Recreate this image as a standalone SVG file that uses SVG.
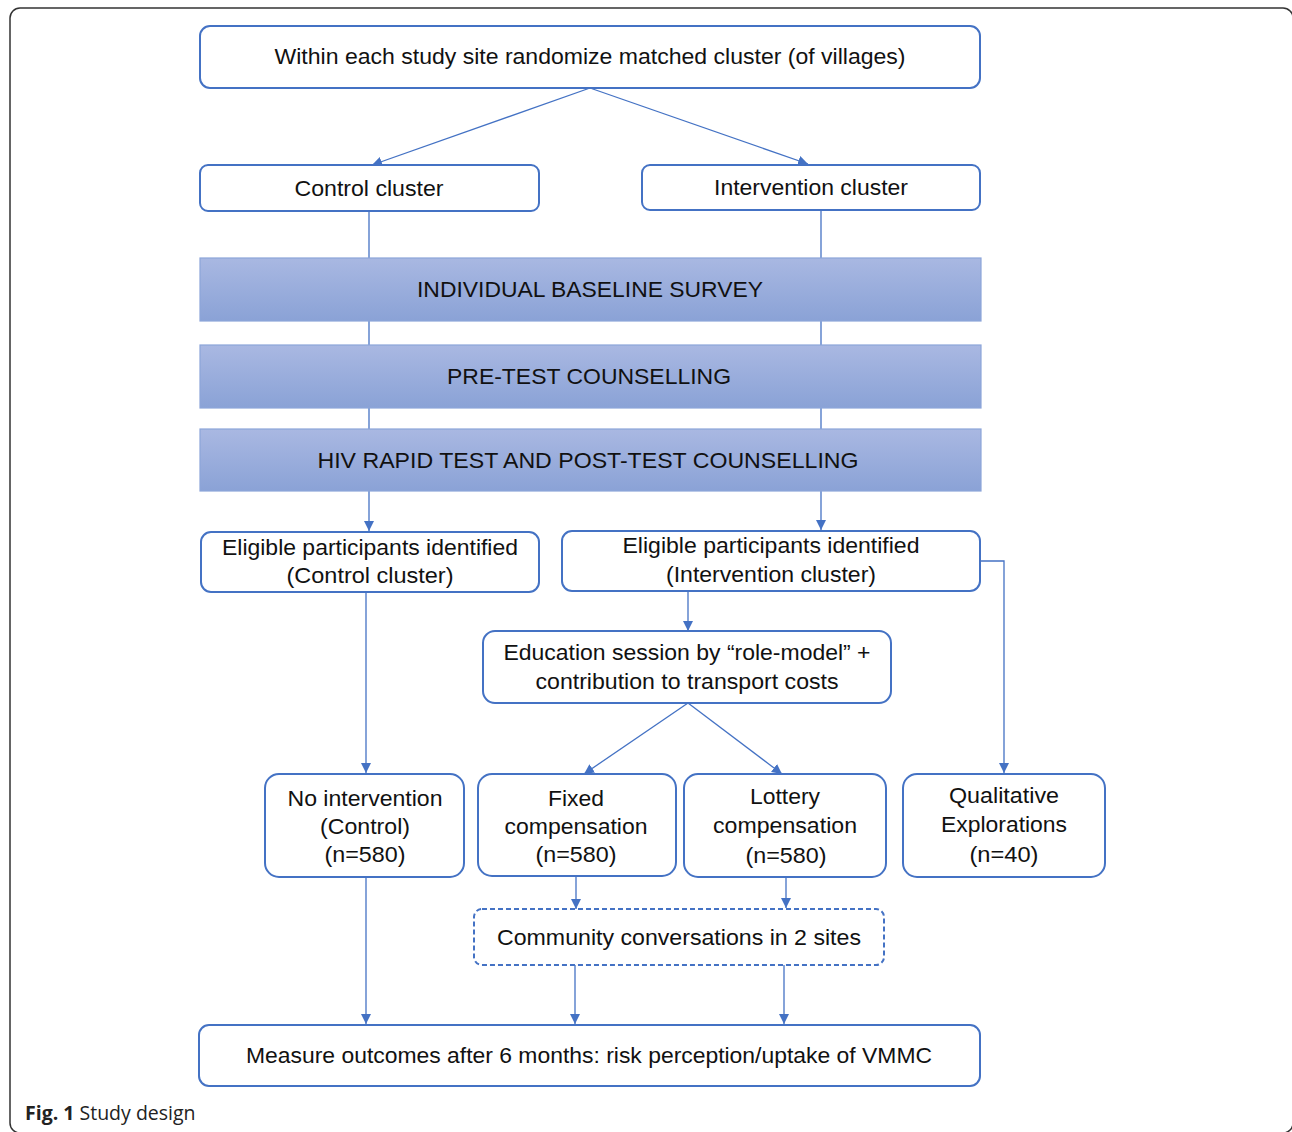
<svg xmlns="http://www.w3.org/2000/svg" width="1292" height="1132" viewBox="0 0 1292 1132">
<style>
.box{fill:#fff;stroke:#4472C4;stroke-width:2}
.dash{fill:#fff;stroke:#4472C4;stroke-width:2;stroke-dasharray:5 3}
.band{fill:url(#bg);stroke:#8CA5D9;stroke-width:1.2}
.t{font-family:"Liberation Sans",Arial,sans-serif;font-size:22px;fill:#111;text-anchor:middle}
.c{fill:none;stroke:#4472C4;stroke-width:1.3}
.cap{font-family:"Open Sans","Noto Sans",sans-serif;font-size:19.5px;fill:#222}
</style>
<defs>
<linearGradient id="bg" x1="0" y1="0" x2="0" y2="1">
<stop offset="0" stop-color="#A9B8E2"/>
<stop offset="1" stop-color="#8AA2D6"/>
</linearGradient>
<marker id="ah" markerUnits="userSpaceOnUse" markerWidth="12" markerHeight="12" refX="10" refY="5" orient="auto">
<path d="M0,0 L10,5 L0,10 z" fill="#4472C4"/>
</marker>
</defs>
<rect x="0" y="0" width="1292" height="1132" fill="#fff"/>
<rect x="10" y="8" width="1283" height="1125" rx="10" fill="none" stroke="#333" stroke-width="1.5"/>

<g id="connectors">
<line class="c" x1="590" y1="88" x2="372" y2="165" marker-end="url(#ah)"/>
<line class="c" x1="590" y1="88" x2="808" y2="164" marker-end="url(#ah)"/>
<line class="c" x1="369" y1="211" x2="369" y2="258"/>
<line class="c" x1="821" y1="210" x2="821" y2="258"/>
<line class="c" x1="369" y1="321" x2="369" y2="345"/>
<line class="c" x1="821" y1="321" x2="821" y2="345"/>
<line class="c" x1="369" y1="408" x2="369" y2="429"/>
<line class="c" x1="821" y1="408" x2="821" y2="429"/>
<line class="c" x1="369" y1="491" x2="369" y2="531" marker-end="url(#ah)"/>
<line class="c" x1="821" y1="491" x2="821" y2="530" marker-end="url(#ah)"/>
<polyline class="c" points="980,561 1004,561 1004,773" marker-end="url(#ah)"/>
<line class="c" x1="688" y1="592" x2="688" y2="631" marker-end="url(#ah)"/>
<line class="c" x1="688" y1="703" x2="584" y2="774" marker-end="url(#ah)"/>
<line class="c" x1="688" y1="703" x2="782" y2="774" marker-end="url(#ah)"/>
<line class="c" x1="366" y1="592" x2="366" y2="773" marker-end="url(#ah)"/>
<line class="c" x1="576" y1="877" x2="576" y2="909" marker-end="url(#ah)"/>
<line class="c" x1="786" y1="877" x2="786" y2="908" marker-end="url(#ah)"/>
<line class="c" x1="366" y1="877" x2="366" y2="1024" marker-end="url(#ah)"/>
<line class="c" x1="575" y1="965" x2="575" y2="1024" marker-end="url(#ah)"/>
<line class="c" x1="784" y1="965" x2="784" y2="1024" marker-end="url(#ah)"/>
</g>

<g id="n-randomize">
<rect class="box" x="200" y="26" width="780" height="62" rx="10"/>
<text class="t" x="590" y="64" textLength="631" lengthAdjust="spacingAndGlyphs">Within each study site randomize  matched cluster (of villages)</text>
</g>
<g id="n-control">
<rect class="box" x="200" y="165" width="339" height="46" rx="8"/>
<text class="t" x="369" y="196" textLength="149" lengthAdjust="spacingAndGlyphs">Control cluster</text>
</g>
<g id="n-intervention">
<rect class="box" x="642" y="165" width="338" height="45" rx="8"/>
<text class="t" x="811" y="195" textLength="194" lengthAdjust="spacingAndGlyphs">Intervention cluster</text>
</g>
<g id="n-baseline">
<rect class="band" x="200" y="258" width="781" height="63"/>
<text class="t" x="590" y="297" textLength="346" lengthAdjust="spacingAndGlyphs">INDIVIDUAL  BASELINE SURVEY</text>
</g>
<g id="n-pretest">
<rect class="band" x="200" y="345" width="781" height="63"/>
<text class="t" x="589" y="384" textLength="284" lengthAdjust="spacingAndGlyphs">PRE-TEST COUNSELLING</text>
</g>
<g id="n-hivtest">
<rect class="band" x="200" y="429" width="781" height="62"/>
<text class="t" x="588" y="468" textLength="541" lengthAdjust="spacingAndGlyphs">HIV RAPID TEST AND  POST-TEST  COUNSELLING</text>
</g>
<g id="n-elig-control">
<rect class="box" x="201" y="532" width="338" height="60" rx="10"/>
<text class="t" x="370" y="555" textLength="296" lengthAdjust="spacingAndGlyphs">Eligible participants identified</text>
<text class="t" x="370" y="583" textLength="167" lengthAdjust="spacingAndGlyphs">(Control cluster)</text>
</g>
<g id="n-elig-intervention">
<rect class="box" x="562" y="531" width="418" height="60" rx="10"/>
<text class="t" x="771" y="553" textLength="297" lengthAdjust="spacingAndGlyphs">Eligible participants identified</text>
<text class="t" x="771" y="582" textLength="210" lengthAdjust="spacingAndGlyphs">(Intervention cluster)</text>
</g>
<g id="n-education">
<rect class="box" x="483" y="631" width="408" height="72" rx="12"/>
<text class="t" x="687" y="660" textLength="367" lengthAdjust="spacingAndGlyphs">Education session by “role-model” +</text>
<text class="t" x="687" y="689" textLength="303" lengthAdjust="spacingAndGlyphs">contribution to transport costs</text>
</g>
<g id="n-nointervention">
<rect class="box" x="265" y="774" width="199" height="103" rx="14"/>
<text class="t" x="365" y="806" textLength="155" lengthAdjust="spacingAndGlyphs">No intervention</text>
<text class="t" x="365" y="834" textLength="90" lengthAdjust="spacingAndGlyphs">(Control)</text>
<text class="t" x="365" y="862" textLength="81" lengthAdjust="spacingAndGlyphs">(n=580)</text>
</g>
<g id="n-fixed">
<rect class="box" x="478" y="774" width="198" height="102" rx="14"/>
<text class="t" x="576" y="806" textLength="56" lengthAdjust="spacingAndGlyphs">Fixed</text>
<text class="t" x="576" y="834" textLength="143" lengthAdjust="spacingAndGlyphs">compensation</text>
<text class="t" x="576" y="862" textLength="81" lengthAdjust="spacingAndGlyphs">(n=580)</text>
</g>
<g id="n-lottery">
<rect class="box" x="684" y="774" width="202" height="103" rx="14"/>
<text class="t" x="785" y="804" textLength="70" lengthAdjust="spacingAndGlyphs">Lottery</text>
<text class="t" x="785" y="833" textLength="144" lengthAdjust="spacingAndGlyphs">compensation</text>
<text class="t" x="786" y="863" textLength="81" lengthAdjust="spacingAndGlyphs">(n=580)</text>
</g>
<g id="n-qualitative">
<rect class="box" x="903" y="774" width="202" height="103" rx="14"/>
<text class="t" x="1004" y="803" textLength="110" lengthAdjust="spacingAndGlyphs">Qualitative</text>
<text class="t" x="1004" y="832" textLength="126" lengthAdjust="spacingAndGlyphs">Explorations</text>
<text class="t" x="1004" y="862" textLength="69" lengthAdjust="spacingAndGlyphs">(n=40)</text>
</g>
<g id="n-community">
<rect class="dash" x="474" y="909" width="410" height="56" rx="8"/>
<text class="t" x="679" y="945" textLength="364" lengthAdjust="spacingAndGlyphs">Community  conversations in 2 sites</text>
</g>
<g id="n-measure">
<rect class="box" x="199" y="1025" width="781" height="61" rx="10"/>
<text class="t" x="589" y="1063" textLength="686" lengthAdjust="spacingAndGlyphs">Measure outcomes after 6 months:  risk perception/uptake of VMMC</text>
</g>
<g id="caption">
<text class="cap" x="25" y="1120"><tspan font-weight="bold">Fig. 1</tspan> Study design</text>
</g>
</svg>
